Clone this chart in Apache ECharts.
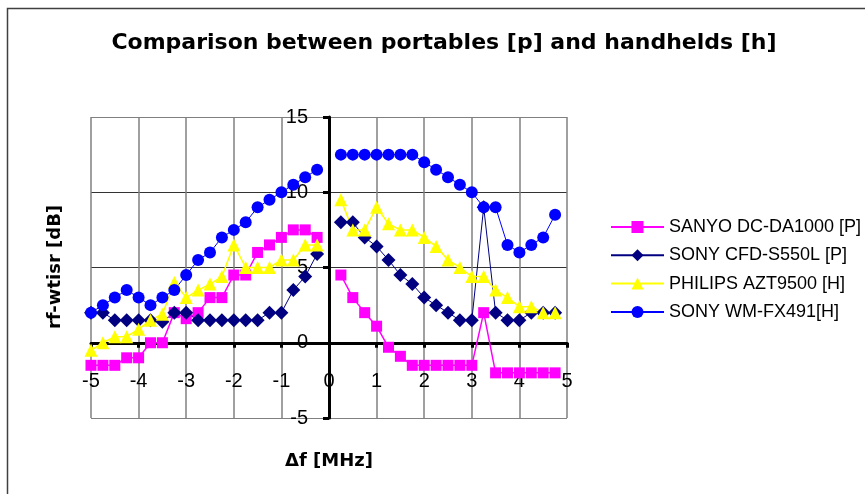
<!DOCTYPE html>
<html>
<head>
<meta charset="utf-8">
<script src="https://cdn.jsdelivr.net/npm/echarts@6/dist/echarts.min.js"></script>
<style>html,body{margin:0;padding:0;background:#fff;}#c{width:865px;height:494px;}</style>
</head>
<body>
<div id="c"></div>
<script>
// Frequency offsets [MHz] (0 is a gap between the two halves)
const freq = [-5,-4.75,-4.5,-4.25,-4,-3.75,-3.5,-3.25,-3,-2.75,-2.5,-2.25,-2,-1.75,-1.5,-1.25,-1,-0.75,-0.5,-0.25,0,0.25,0.5,0.75,1,1.25,1.5,1.75,2,2.25,2.5,2.75,3,3.25,3.5,3.75,4,4.25,4.5,4.75];
const sanyo   = [-1.5,-1.5,-1.5,-1,-1,0,0,2,1.6,2,3,3,4.5,4.5,6,6.5,7,7.5,7.5,7,null,4.5,3,2,1.1,-0.3,-0.9,-1.5,-1.5,-1.5,-1.5,-1.5,-1.5,2,-2,-2,-2,-2,-2,-2];
const sonyCfd = [2,2,1.5,1.5,1.5,1.5,1.4,2,2,1.5,1.5,1.5,1.5,1.5,1.5,2,2,3.5,4.4,5.9,null,8,8,7,6.4,5.5,4.5,3.9,3,2.5,2,1.5,1.5,9,2,1.5,1.5,2,2,2];
const philips = [-0.5,0,0.4,0.4,0.9,1.5,1.9,4,3,3.5,3.9,4.4,6.5,5,5,5,5.5,5.5,6.5,6.5,null,9.5,7.5,7.5,9,7.9,7.5,7.5,7,6.4,5.5,5,4.4,4.4,3.5,3,2.4,2.4,2,2];
const sonyWm  = [2,2.5,3,3.5,3,2.5,3,3.5,4.5,5.5,6,7,7.5,8,9,9.5,10,10.5,11,11.5,null,12.5,12.5,12.5,12.5,12.5,12.5,12.5,12,11.5,11,10.5,10,9,9,6.5,6,6.5,7,8.5];
const seriesNames = ['SANYO DC-DA1000 [P]','SONY CFD-S550L [P]','PHILIPS AZT9500 [H]','SONY WM-FX491[H]'];
const titleText = 'Comparison between portables [p] and handhelds [h]';
const xName = 'Δf [MHz]';
const yName = 'rf-wtisr [dB]';

const pairs = arr => freq.map((f, i) => [f, arr[i] === null ? '-' : arr[i]]);
const chart = echarts.init(document.getElementById('c'), null, {renderer: 'canvas'});
const mk = (name, arr, color, symbol, size, width) => ({
  name, type: 'line', data: pairs(arr), symbol, symbolSize: size,
  connectNulls: false, showSymbol: true,
  lineStyle: {color, width}, itemStyle: {color, borderWidth: 0},
  emphasis: {disabled: true}
});
chart.setOption({
  animation: false,
  backgroundColor: '#fff',
  title: {
    text: titleText, left: 439, top: 27, textAlign: 'center',
    textStyle: {fontFamily: 'DejaVu Sans', fontWeight: 'bold', fontSize: 22, color: '#000'}
  },
  legend: {
    orient: 'vertical', left: 605, top: 213, itemWidth: 53, itemHeight: 15, itemGap: 10.3,
    textStyle: {fontFamily: 'Liberation Sans', fontSize: 18, color: '#000'},
    data: seriesNames
  },
  grid: {left: 91, right: 298, top: 117, bottom: 76, containLabel: false},
  xAxis: {
    type: 'value', min: -5, max: 5, interval: 1,
    axisLine: {onZero: true, lineStyle: {color: '#000', width: 3}},
    axisTick: {show: true, length: 5, lineStyle: {color: '#000', width: 3}},
    axisLabel: {margin: -47, fontFamily: 'Liberation Sans', fontSize: 20, color: '#000', showMinLabel: true, showMaxLabel: true},
    splitLine: {show: true, lineStyle: {color: '#808080', width: 1.5}}
  },
  yAxis: {
    type: 'value', min: -5, max: 15, interval: 5,
    axisLine: {onZero: true, lineStyle: {color: '#000', width: 3}},
    axisTick: {show: true, length: 6, lineStyle: {color: '#000', width: 3}},
    axisLabel: {margin: -217, fontFamily: 'Liberation Sans', fontSize: 20, color: '#000'},
    splitLine: {show: true, lineStyle: {color: ['#808080','#333','#333','#333','#808080'], width: 1}}
  },
  graphic: [
    {type: 'rect', silent: true, shape: {x: 7.5, y: 8.5, width: 1000, height: 1000},
     style: {fill: 'none', stroke: '#404040', lineWidth: 1.5}},
    {type: 'text', silent: true, x: 329, y: 461,
     style: {text: xName, font: 'bold 18px "DejaVu Sans"', fill: '#000', textAlign: 'center', textVerticalAlign: 'middle'}},
    {type: 'text', silent: true, x: 55, y: 267, rotation: Math.PI / 2,
     style: {text: yName, font: 'bold 18px "DejaVu Sans"', fill: '#000', textAlign: 'center', textVerticalAlign: 'middle'}}
  ],
  series: [
    mk(seriesNames[0], sanyo, '#FF00FF', 'rect', 11, 1.5),
    mk(seriesNames[1], sonyCfd, '#000080', 'diamond', 14, 1),
    mk(seriesNames[2], philips, '#FFFF00', 'triangle', 13, 1.5),
    mk(seriesNames[3], sonyWm, '#0000FF', 'circle', 12, 1)
  ]
});
</script>
</body>
</html>
